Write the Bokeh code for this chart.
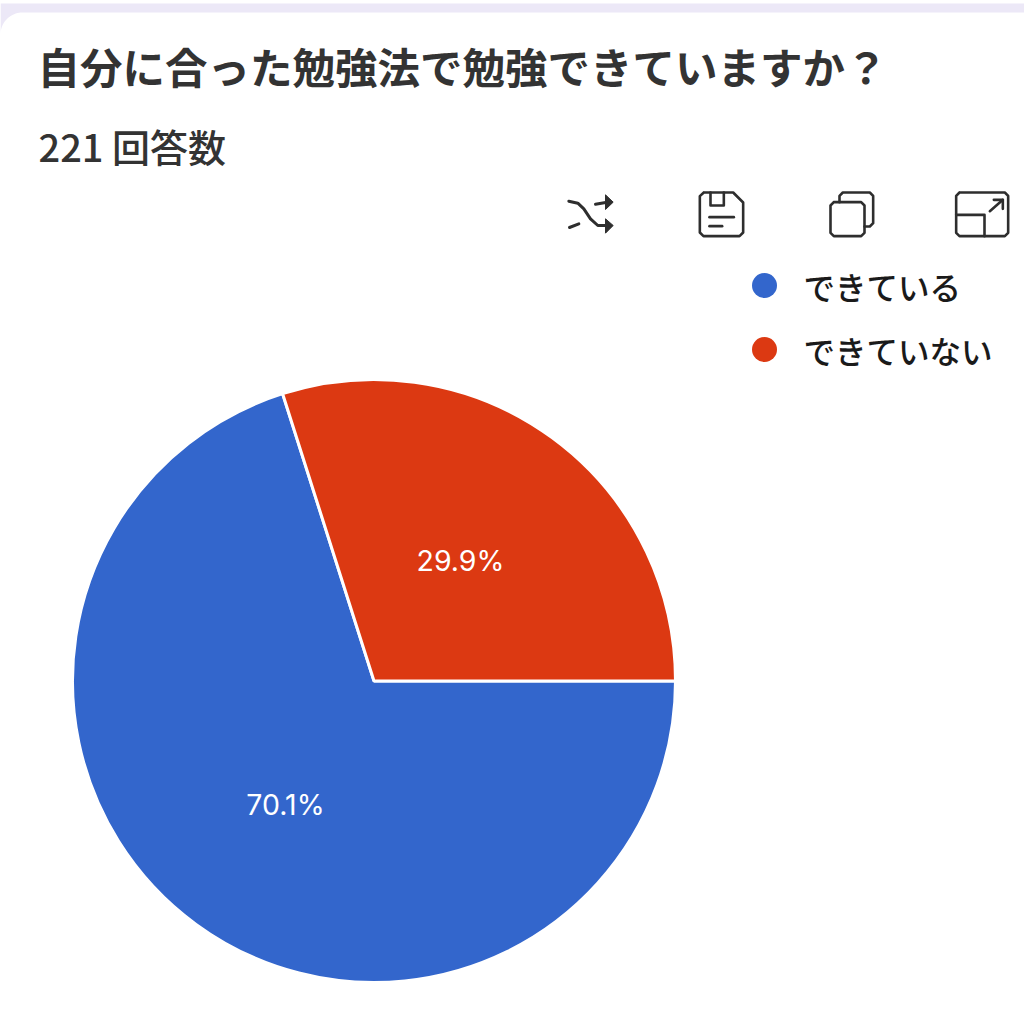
from math import pi, cos, sin
from bokeh.plotting import figure
from bokeh.models import ColumnDataSource
from bokeh.core.properties import value
from bokeh.embed import file_html
from bokeh.resources import INLINE

title_text = "自分に合った勉強法で勉強できていますか？"
subtitle_text = "221 回答数"
categories = ["できている", "できていない"]
percent_values = [70.1, 29.9]
colors = ["#3366cc", "#dc3912"]

W, H = 1024, 1013
FONT = value("Noto Sans CJK JP")
FONT_M = value("Noto Sans CJK JP Medium")

p = figure(width=W, height=H, x_range=(0, W), y_range=(0, H), output_backend="svg",
           toolbar_location=None, min_border=0, outline_line_color=None,
           background_fill_color="white", border_fill_color="white")
p.axis.visible = False
p.grid.visible = False
p.styles = {"position": "absolute", "left": "0px", "top": "0px"}

def Y(y):
    return H - y

def Z(x, y):
    return 540 + x / 3, Y(170 + y / 3)

def stroke(points, width=2.6, color="#2e2e2e"):
    pts = [Z(*q) for q in points]
    p.line([q[0] for q in pts], [q[1] for q in pts], line_width=width, line_color=color,
           line_join="round", line_cap="round")

def fill(points, color="#2e2e2e"):
    pts = [Z(*q) for q in points]
    p.patch([q[0] for q in pts], [q[1] for q in pts], fill_color=color, line_color=color, line_width=1)

# Page band and rounded card corner
R = 22
corner = [(R - R * sin(a * pi / 40), 12 + R - R * cos(a * pi / 40)) for a in range(0, 21)]
band_x = [0, W, W, R] + [q[0] for q in corner] + [0]
band_y = [3, 3, 12, 12] + [q[1] for q in corner] + [12 + R]
p.patch(band_x, [Y(v) for v in band_y], fill_color="#ece8f7", line_color=None)

# Pie, drawn counter-clockwise from 3 o'clock
cx, cy, radius = 373.5, Y(680.5), 301.5
total = sum(percent_values)
red_end = percent_values[1] / total * 2 * pi
src = ColumnDataSource(dict(start=[red_end, 0], end=[2 * pi, red_end], color=colors))
p.wedge(x=cx, y=cy, radius=radius, start_angle="start", end_angle="end", fill_color="color",
        line_color="white", line_width=3, source=src)

# Slice labels
p.text(x=[285, 460], y=[Y(804), Y(560)], text=[f"{v}%" for v in percent_values], text_color="white",
       text_font=value("Inter"), text_font_size="28.5px", text_font_style="normal",
       text_align="center", text_baseline="middle")

# Titles
p.text(x=[37], y=[Y(65)], text=[title_text], text_color="#333333", text_font=FONT,
       text_font_size="42.5px", text_font_style="bold", text_baseline="middle")
p.text(x=[38], y=[Y(145)], text=[subtitle_text], text_color="#333333", text_font=FONT_M,
       text_font_size="38px", text_baseline="middle")

# Legend
legend_y = [Y(285), Y(349)]
p.scatter(x=[764, 764], y=[Y(285), Y(349)], size=25, marker="circle", fill_color=colors, line_color=None)
p.text(x=[803, 803], y=legend_y, text=categories, text_color="#1a1a1a", text_font=FONT_M,
       text_font_size="31.5px", text_baseline="middle")

# Toolbar icons
stroke([(85, 92), (112, 98), (130, 115), (150, 145), (172, 165), (200, 165)], 3)
fill([(195, 145), (218, 165), (195, 188)])
stroke([(165, 101), (200, 95)], 3)
fill([(195, 73), (218, 95), (195, 117)])
stroke([(87, 171), (115, 160)], 3)

stroke([(490, 66), (578, 66), (608, 96), (608, 186), (597, 197), (489, 197), (478, 186), (478, 77), (490, 66)])
stroke([(510, 66), (510, 105), (550, 105), (550, 66)])
stroke([(507, 140), (580, 140)])
stroke([(507, 167), (545, 167)])

stroke([(880, 95), (962, 95), (972, 105), (972, 187), (962, 197), (880, 197), (870, 187), (870, 105), (880, 95)])
stroke([(897, 95), (897, 76), (907, 66), (988, 66), (998, 76), (998, 158), (988, 168), (972, 168)])

stroke([(1257, 66), (1393, 66), (1403, 76), (1403, 187), (1393, 197), (1257, 197), (1247, 187), (1247, 76), (1257, 66)])
stroke([(1247, 133), (1332, 133), (1332, 197)])
stroke([(1348, 122), (1387, 88)])
stroke([(1360, 88), (1387, 88), (1387, 115)])

open("out.html", "w").write(file_html(p, INLINE))
